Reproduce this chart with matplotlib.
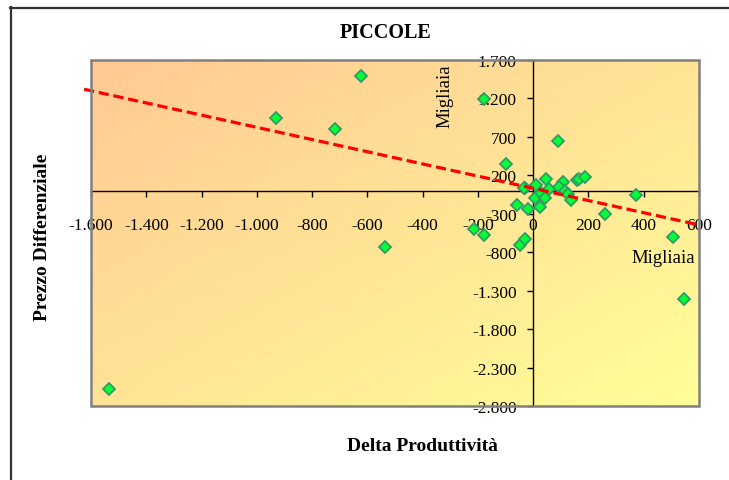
import numpy as np
import matplotlib
matplotlib.use("Agg")
import matplotlib.pyplot as plt
from matplotlib.ticker import FuncFormatter
from matplotlib.patches import Rectangle
from matplotlib.colors import to_rgb

# ---------------- data ----------------
delta_prod = [-1536, -931, -716, -622, -535, -178, -98, 88, 373, 260, 505, 547,
              -214, -178, -46, -28, -57, -20, -28, -34, 6, 12, 25, 30, 46, 58,
              42, 107, 94, 115, 127, 137, 157, 165, 189]
prezzo_diff = [-2579, 940, 797, 1486, -728, 1188, 350, 644, -63, -307, -607, -1406,
               -506, -581, -711, -628, -194, -237, 28, 37, -93, 67, -216, -28, 154, 24,
               -102, 115, 45, -7, -50, -124, 132, 150, 180]
trend_slope = -0.7925
trend_intercept = 28.5
trend_x = [-1625, 595]
x_ticks = [-1600, -1400, -1200, -1000, -800, -600, -400, -200, 0, 200, 400, 600]
y_ticks = [-2800, -2300, -1800, -1300, -800, -300, 200, 700, 1200, 1700]

title = "PICCOLE"
x_label = "Delta Produttività"
y_label = "Prezzo Differenziale"
unit_label = "Migliaia"

# ---------------- figure ----------------
plt.rcParams['font.family'] = ['Liberation Serif', 'DejaVu Serif']
W, H = 729, 481
fig = plt.figure(figsize=(W / 100, H / 100), dpi=100)
fig.patch.set_facecolor('white')

# outer chart border (top and left visible)
fig.add_artist(plt.Line2D([10 / W, 1.0], [1 - 8.5 / H, 1 - 8.5 / H], color='#333333', lw=1.6,
                          transform=fig.transFigure))
fig.add_artist(plt.Line2D([10.5 / W, 10.5 / W], [0, 1 - 8 / H], color='#333333', lw=1.6,
                          transform=fig.transFigure))

left, right, top, bottom = 91, 699, 60.7, 407
ax = fig.add_axes([left / W, 1 - bottom / H, (right - left) / W, (bottom - top) / H])
ax.set_xlim(-1600, 600)
ax.set_ylim(-2800, 1700)

# gradient background
c1 = np.array(to_rgb('#FFC993'))
c2 = np.array(to_rgb('#FFFF99'))
n = 256
u = np.linspace(0, 1, n)
U, V = np.meshgrid(u, u)
T = (U + V) / 2.0  # image row 0 at top (origin='upper'), so V grows downward
img = c1[None, None, :] * (1 - T[..., None]) + c2[None, None, :] * T[..., None]
ax.imshow(img, extent=[0, 1, 0, 1], transform=ax.transAxes, aspect='auto',
          origin='upper', zorder=0, interpolation='bilinear')

# plot area border
ax.add_patch(Rectangle((0, 0), 1, 1, transform=ax.transAxes, fill=False,
                       edgecolor='#808080', lw=1.8, zorder=5, clip_on=False))

# axes through zero
for s in ['top', 'right']:
    ax.spines[s].set_visible(False)
ax.spines['left'].set_position(('data', 0))
ax.spines['bottom'].set_position(('data', 0))
for s in ['left', 'bottom']:
    ax.spines[s].set_color('black')
    ax.spines[s].set_linewidth(1.0)
    ax.spines[s].set_zorder(2)

fmt = FuncFormatter(lambda v, p: f"{int(v):,}".replace(",", "."))
ax.set_xticks(x_ticks)
ax.set_yticks(y_ticks)
ax.xaxis.set_major_formatter(fmt)
ax.yaxis.set_major_formatter(fmt)
ax.tick_params(axis='x', direction='out', length=4, width=1, pad=15, labelsize=12.5,
               colors='black')
ax.tick_params(axis='y', direction='out', length=4, width=1, pad=8, labelsize=12.5,
               colors='black')

# scatter
ax.plot(delta_prod, prezzo_diff, linestyle='none', marker='D', markersize=6.5,
        markerfacecolor='#00FF33', markeredgecolor='#339966', markeredgewidth=1.3,
        zorder=4, clip_on=False)

# trendline
tx = np.array(trend_x, dtype=float)
ax.plot(tx, trend_slope * tx + trend_intercept, color='#FF0000', lw=2.3,
        dashes=(3.2, 1.5), zorder=4.5, clip_on=False)

# texts
fig.text(386 / W, 1 - 33 / H, title, ha='center', va='center', fontsize=14.5,
         fontweight='bold')
fig.text(422 / W, 1 - 447 / H, x_label, ha='center', va='center', fontsize=14,
         fontweight='bold')
fig.text(43 / W, 1 - 237 / H, y_label, ha='center', va='center', fontsize=14,
         fontweight='bold', rotation=90)
fig.text(445 / W, 1 - 96 / H, unit_label, ha='center', va='center', fontsize=13.5,
         rotation=90)
fig.text(663 / W, 1 - 259 / H, unit_label, ha='center', va='center', fontsize=13.5)

fig.savefig('out.png', dpi=100)
